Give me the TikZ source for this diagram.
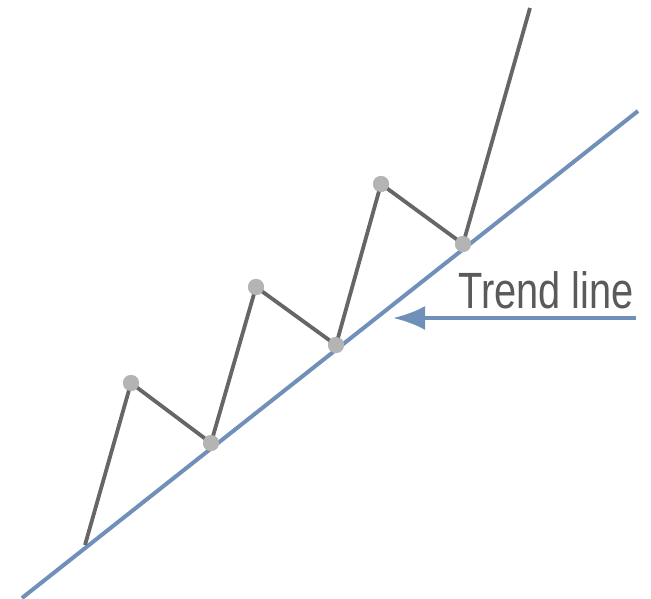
\documentclass[tikz,border=0pt]{standalone}
\usepackage{fontspec}
\setmainfont{Liberation Sans}
\usetikzlibrary{arrows.meta}
\definecolor{trendblue}{HTML}{7090BA}
\definecolor{zig}{HTML}{666666}
\definecolor{dotgray}{HTML}{B4B4B4}
\definecolor{txtgray}{HTML}{5A5A5A}
\begin{document}
\begin{tikzpicture}[x=1pt,y=-1pt,
  trend/.style={draw=trendblue,line width=4pt},
  zigline/.style={draw=zig,line width=3.8pt,line join=round},
  pt/.style={circle,fill=dotgray,inner sep=0pt,minimum size=16pt},
  lbl/.style={text=txtgray,font=\fontsize{51}{51}\selectfont,xscale=0.78,inner sep=0pt,anchor=base east}]
\useasboundingbox[fill=white] (0,0) rectangle (651,599);
\coordinate (t0) at (22,598);
\coordinate (t1) at (638,111);
\draw[trend] (t0) -- (t1);
\coordinate (s) at (85,545);
\coordinate (e) at (530,8);
\node[pt] (p1) at (131,383) {};
\node[pt] (p2) at (211,443) {};
\node[pt] (p3) at (256,287) {};
\node[pt] (p4) at (336,345) {};
\node[pt] (p5) at (381,184) {};
\node[pt] (p6) at (463,244) {};
\draw[zigline] (s) -- (p1.center) -- (p2.center) -- (p3.center) -- (p4.center) -- (p5.center) -- (p6.center) -- (e);
\foreach \n in {p1,p2,p3,p4,p5,p6} \fill[dotgray] (\n) circle (8pt);
\node[lbl] (lab) at (634,308) {Trend line};
\coordinate (a0) at (636,318);
\coordinate (a1) at (393,318);
\draw[trendblue,line width=4pt,-{Latex[length=32pt,width=24pt]}] (a0) -- (a1);
\end{tikzpicture}
\end{document}
